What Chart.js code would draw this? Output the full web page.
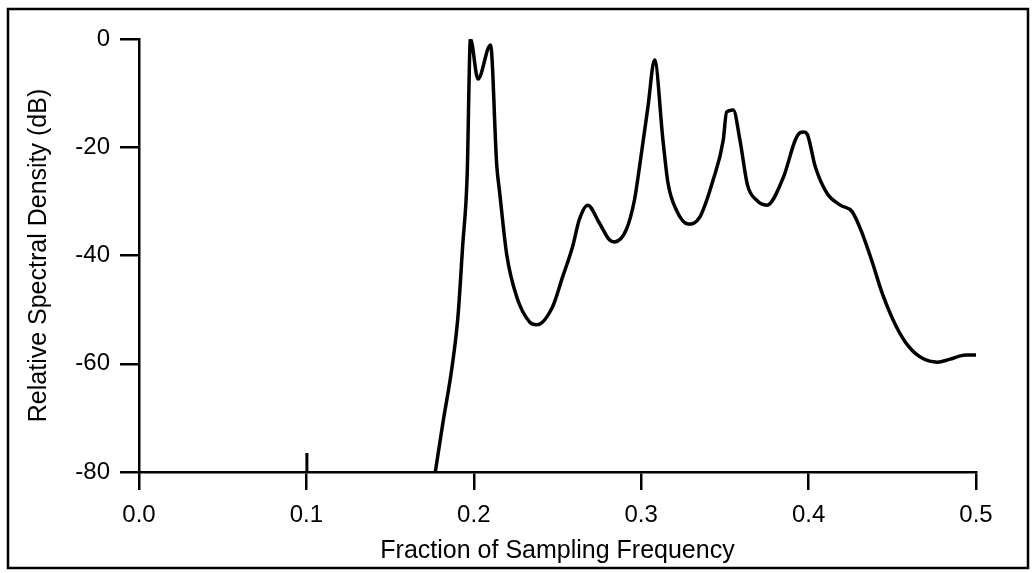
<!DOCTYPE html>
<html>
<head>
<meta charset="utf-8">
<script src="https://cdn.jsdelivr.net/npm/chart.js@4/dist/chart.umd.min.js"></script>
<style>
  html, body { margin: 0; padding: 0; background: #fff; }
  #wrap { width: 1032px; height: 573px; position: relative; }
</style>
</head>
<body>
<div id="wrap"><canvas id="c" width="1032" height="573"></canvas></div>
<script>
// Frequency (fraction of sampling frequency)
const freq = [0.177, 0.1815, 0.187, 0.1905, 0.1934, 0.196, 0.198, 0.2025, 0.210, 0.2137, 0.2155, 0.2197,
  0.2257, 0.2334, 0.2376, 0.247, 0.253, 0.259, 0.263, 0.268, 0.275, 0.281, 0.284, 0.291, 0.296, 0.299,
  0.304, 0.308, 0.313, 0.316, 0.321, 0.328, 0.335, 0.343, 0.349, 0.351, 0.355, 0.359, 0.3635, 0.369,
  0.375, 0.385, 0.392, 0.395, 0.397, 0.399, 0.404, 0.411, 0.419, 0.426, 0.432, 0.438, 0.444, 0.4525,
  0.460, 0.468, 0.477, 0.484, 0.494, 0.500];
// Relative spectral density (dB)
const density = [-80, -71, -60.6, -51.4, -38, -25.5, 0, -7.4, -1.1, -23.3, -28.5, -39.9,
  -47.7, -52.3, -52.8, -49.5, -44, -38.4, -33.4, -30.7, -34, -37.1, -37.5, -35.3, -29.7, -23.6,
  -12.6, -3.9, -18.7, -26.6, -31.6, -34.2, -32.9, -26, -18.7, -13.5, -13.1, -18.7, -27, -29.8,
  -30.7, -25.5, -18.7, -17.3, -17.2, -17.5, -23.6, -28.5, -30.7, -31.9, -35.9, -41.2, -47, -53.2,
  -56.9, -59, -59.7, -59.2, -58.4, -58.4];
// small spike near 0.1
const spikeFreq = [0.1, 0.1003];
const spikeDensity = [-80, -76.5];

const xTicks = [0.0, 0.1, 0.2, 0.3, 0.4, 0.5];
const yTicks = [0, -20, -40, -60, -80];

const mainData = freq.map((f, i) => ({ x: f, y: density[i] }));
const spikeData = spikeFreq.map((f, i) => ({ x: f, y: spikeDensity[i] }));

const framePlugin = {
  id: 'frame',
  afterDraw(chart) {
    const ctx = chart.ctx;
    ctx.save();
    ctx.strokeStyle = '#000';
    ctx.lineWidth = 2.5;
    ctx.strokeRect(8, 9, 1020, 559);
    ctx.restore();
  }
};

const tickFont = { family: '"Liberation Sans", Arial, Helvetica, sans-serif', size: 24 };
const titleFont = { family: '"Liberation Sans", Arial, Helvetica, sans-serif', size: 25 };

new Chart(document.getElementById('c'), {
  type: 'line',
  data: {
    datasets: [
      { data: mainData, borderColor: '#000', borderWidth: 3.5, pointRadius: 0, fill: false,
        cubicInterpolationMode: 'monotone' },
      { data: spikeData, borderColor: '#000', borderWidth: 3, pointRadius: 0, fill: false, tension: 0 }
    ]
  },
  options: {
    responsive: false,
    animation: false,
    events: [],
    layout: { padding: { left: 0, top: 39, right: 56, bottom: 0 } },
    plugins: { legend: { display: false }, tooltip: { enabled: false } },
    scales: {
      x: {
        type: 'linear', min: 0, max: 0.5,
        afterFit(s) { s.height = 101; },
        afterBuildTicks(s) { s.ticks = xTicks.map(v => ({ value: v })); },
        grid: { drawOnChartArea: false, drawTicks: true, tickLength: 18, color: '#000', lineWidth: 2.5 },
        border: { display: true, color: '#000', width: 2.5 },
        ticks: { color: '#000', font: tickFont, padding: 11, maxRotation: 0,
          callback: v => Number(v).toFixed(1) },
        title: { display: true, text: 'Fraction of Sampling Frequency', color: '#000', font: titleFont,
          padding: { top: 0, bottom: 7 } }
      },
      y: {
        type: 'linear', min: -80, max: 0,
        afterFit(s) { s.width = 139; },
        afterBuildTicks(s) { s.ticks = yTicks.map(v => ({ value: v })); },
        grid: { drawOnChartArea: false, drawTicks: true, tickLength: 19, color: '#000', lineWidth: 2.5 },
        border: { display: true, color: '#000', width: 2.5 },
        ticks: { color: '#000', font: tickFont, padding: 10, callback: v => String(v) },
        title: { display: true, text: 'Relative Spectral Density (dB)', color: '#000', font: titleFont,
          padding: { top: 24, bottom: 0 } }
      }
    }
  },
  plugins: [framePlugin]
});
</script>
</body>
</html>
